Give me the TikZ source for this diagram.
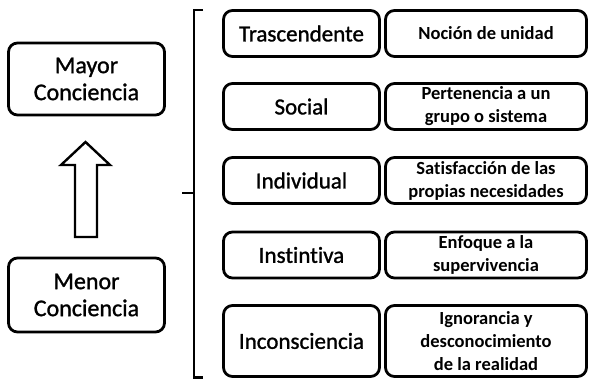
\documentclass[tikz,border=0pt]{standalone}
\usepackage{fontspec}
\setmainfont[Ligatures=NoCommon]{Carlito}
\newfontfamily\gruesa[FakeBold=1.2, Ligatures=NoCommon]{Carlito}

\begin{document}
\begin{tikzpicture}[
    x=1pt, y=-1pt,
    % Style for the left boxes (level of awareness)
    lado/.style={draw=black, line width=2.8pt, rounded corners=9pt, align=center,
        minimum width=156pt, font=\gruesa\fontsize{24}{27}\selectfont, inner sep=0pt},
    % Style for the level names
    nivel/.style={draw=black, line width=2.8pt, rounded corners=9pt, align=center,
        minimum width=156pt, minimum height=46pt, font=\gruesa\fontsize{23}{27}\selectfont, inner sep=0pt},
    % Style for the descriptions
    desc/.style={draw=black, line width=2.8pt, rounded corners=9pt, align=center,
        minimum width=201pt, minimum height=46pt, font=\bfseries\fontsize{18.5}{23}\selectfont, inner sep=0pt}
]
\useasboundingbox (0,0) rectangle (589,379);

% ==========================
% Left column
% ==========================
\node[lado, minimum height=72pt] (mayor) at (86.5, 79) {Mayor\\Conciencia};
\node[lado, minimum height=74pt] (menor) at (86.5, 295) {Menor\\Conciencia};

% Hollow arrow pointing up
\draw[line width=2.4pt, line join=miter] (85.5,142) -- (110,165) -- (97,165) -- (97,237)
    -- (75,237) -- (75,165) -- (61,165) -- cycle;

% ==========================
% Bracket
% ==========================
\draw[line width=2.8pt] (203,10) -- (194,10) -- (194,377.5) -- (203,377.5);
\draw[line width=2.8pt] (194,193) -- (182,193);

% ==========================
% Levels
% ==========================
\node[nivel] (trasc) at (301.5, 33.5) {Trascendente};
\node[nivel] (social) at (301.5, 106.5) {Social};
\node[nivel] (indiv) at (301.5, 180.5) {Individual};
\node[nivel] (instin) at (301.5, 255) {Instintiva};
\node[nivel, minimum height=71pt] (incons) at (301.5, 341) {Inconsciencia};

% ==========================
% Descriptions
% ==========================
\node[desc] (nocion) at (486, 33.5) {Noción de unidad};
\node[desc] (perten) at (486, 106.5) {Pertenencia a un\\grupo o sistema};
\node[desc] (satisf) at (486, 180.5) {Satisfacción de las\\propias necesidades};
\node[desc] (enfoque) at (486, 255) {Enfoque a la\\supervivencia};
\node[desc, minimum height=71pt] (ignor) at (486, 341) {Ignorancia y\\desconocimiento\\de la realidad};

\end{tikzpicture}
\end{document}
